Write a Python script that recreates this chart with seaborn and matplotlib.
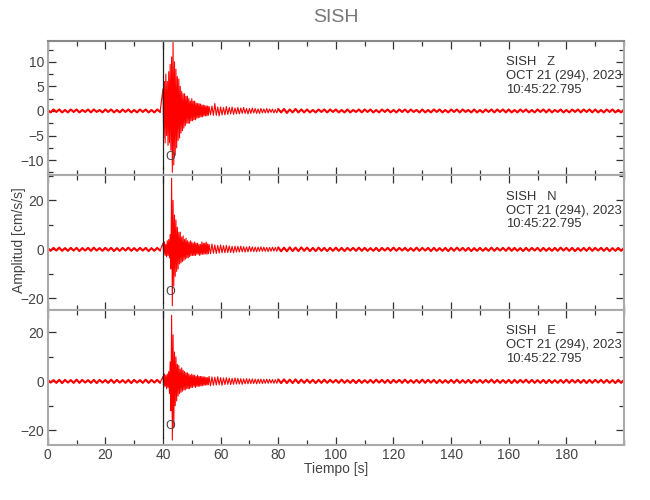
import numpy as np
import pandas as pd
import seaborn as sns
import matplotlib.pyplot as plt
from matplotlib.ticker import MultipleLocator

STATION = "SISH"
COMPONENTS = ["Z", "N", "E"]
DATE_LINE = "OCT 21 (294), 2023"
TIME_LINE = "10:45:22.795"
P_PICK = 40.0        # black vertical line (s)
O_TIME = 42.5        # position of the "O" label (s)
O_AMP = [-9.4, -17.5, -18.4]
YLIMS = [(-13.1, 14.3), (-24.7, 30.2), (-25.8, 29.2)]

# hand-read traces (cm/s/s), sampled as:
#   pre   0..39 s    every 1 s
#   event 40..55.75  every 0.25 s
#   coda  56..79.5   every 0.5 s
#   tail  80..200    every 1 s
SEGMENTS = [(0.0, 1.0), (40.0, 0.25), (56.0, 0.5), (80.0, 1.0)]

z_pre = [0.2, -0.3, 0.3, -0.2, 0.3, -0.3, 0.2, -0.3, 0.3, -0.2,
         0.3, -0.3, 0.2, -0.2, 0.3, -0.3, 0.3, -0.2, 0.2, -0.3,
         0.3, -0.2, 0.3, -0.3, 0.2, -0.3, 0.3, -0.2, 0.3, -0.3,
         0.2, -0.3, 0.3, -0.2, 0.3, -0.3, 0.2, -0.3, 0.3, -0.2]
z_event = [4.5, -5.5, 6.0, -6.5, 7.5, -5.0, 6.0, -7.0,
           8.0, -6.5, 9.5, -8.0, 11.0, -12.5, 14.0, -11.0,
           10.0, -9.0, 8.5, -7.5, 7.0, -6.0, 6.5, -5.5,
           5.0, -4.5, 4.0, -4.0, 3.5, -3.5, 3.5, -3.0,
           3.0, -2.5, 3.0, -2.5, 2.5, -2.5, 2.0, -2.0,
           2.5, -2.0, 2.0, -1.8, 2.0, -1.8, 1.6, -1.5,
           1.5, -1.4, 1.5, -1.3, 1.4, -1.2, 1.2, -1.2,
           1.2, -1.0, 1.1, -1.0, 1.0, -1.0, 1.0, -0.9]
z_coda = [0.9, -0.8, 1.0, -0.9, 1.5, -0.9, 0.8, -1.0, 0.8, -0.8,
          0.7, -0.8, 0.9, -0.7, 0.7, -0.6, 0.8, -0.7, 0.6, -0.6,
          0.7, -0.6, 0.6, -0.5, 0.7, -0.5, 0.5, -0.6, 0.5, -0.5,
          0.6, -0.4, 0.5, -0.5, 0.4, -0.5, 0.5, -0.4, 0.4, -0.4,
          0.5, -0.4, 0.4, -0.3, 0.4, -0.4, 0.3, -0.4]
z_tail = [0.4, -0.3, 0.4, -0.4, 0.3, -0.3, 0.4, -0.3, 0.3, -0.3,
          0.3, -0.3, 0.2, -0.3, 0.3, -0.2, 0.3, -0.3, 0.3, -0.2,
          0.3, -0.3, 0.2, -0.3, 0.3, -0.3, 0.2, -0.2, 0.3, -0.3,
          0.3, -0.2, 0.3, -0.3, 0.2, -0.3, 0.3, -0.2, 0.3, -0.3,
          0.2, -0.3, 0.3, -0.2, 0.3, -0.3, 0.3, -0.2, 0.2, -0.3,
          0.3, -0.3, 0.2, -0.3, 0.3, -0.2, 0.3, -0.3, 0.2, -0.3,
          0.3, -0.2, 0.3, -0.3, 0.3, -0.2, 0.2, -0.3, 0.3, -0.3,
          0.2, -0.3, 0.3, -0.2, 0.3, -0.3, 0.3, -0.2, 0.3, -0.3,
          0.3, -0.3, 0.2, -0.3, 0.3, -0.2, 0.3, -0.3, 0.2, -0.3,
          0.3, -0.2, 0.3, -0.3, 0.3, -0.3, 0.2, -0.2, 0.3, -0.3,
          0.2, -0.3, 0.3, -0.2, 0.3, -0.3, 0.3, -0.2, 0.3, -0.3,
          0.3, -0.3, 0.2, -0.3, 0.3, -0.2, 0.3, -0.3, 0.2, -0.3,
          0.3]

n_pre = [0.5, -0.6, 0.6, -0.5, 0.7, -0.6, 0.5, -0.6, 0.6, -0.5,
         0.6, -0.7, 0.5, -0.5, 0.6, -0.6, 0.7, -0.5, 0.5, -0.6,
         0.6, -0.5, 0.6, -0.7, 0.5, -0.6, 0.6, -0.5, 0.7, -0.6,
         0.5, -0.6, 0.6, -0.5, 0.6, -0.7, 0.5, -0.6, 0.6, -0.5]
n_event = [2.5, -2.0, 3.0, -2.5, 2.0, -3.0, 3.5, -2.5,
           4.0, -3.5, 6.0, -8.0, 29.0, -23.0, 20.0, -15.0,
           14.0, -11.0, 12.0, -9.0, 9.0, -8.0, 7.0, -6.0,
           7.0, -5.5, 5.0, -5.0, 5.5, -4.5, 4.0, -4.0,
           4.5, -3.5, 3.5, -3.5, 3.0, -3.0, 3.5, -2.5,
           3.0, -2.5, 2.5, -2.5, 3.0, -2.5, 2.5, -2.0,
           2.5, -2.0, 2.0, -2.5, 2.0, -2.0, 3.0, -2.0,
           2.5, -2.0, 2.5, -1.8, 3.0, -2.0, 2.2, -1.8]
n_coda = [2.0, -1.8, 2.2, -1.6, 1.8, -1.7, 1.6, -1.5, 1.8, -1.4,
          1.5, -1.4, 1.6, -1.3, 1.4, -1.3, 1.2, -1.4, 1.3, -1.1,
          1.2, -1.1, 1.3, -1.0, 1.1, -1.1, 1.0, -1.0, 1.2, -0.9,
          1.0, -0.9, 0.9, -1.0, 0.9, -0.8, 1.0, -0.8, 0.9, -0.8,
          0.8, -0.9, 0.8, -0.8, 0.9, -0.7, 0.8, -0.8]
n_tail = [0.8, -0.8, 0.7, -0.8, 0.8, -0.7, 0.7, -0.7, 0.8, -0.6,
          0.7, -0.7, 0.6, -0.7, 0.7, -0.6, 0.6, -0.7, 0.6, -0.6,
          0.7, -0.6, 0.6, -0.7, 0.6, -0.5, 0.6, -0.6, 0.7, -0.6,
          0.6, -0.6, 0.5, -0.6, 0.6, -0.7, 0.6, -0.5, 0.6, -0.6,
          0.7, -0.6, 0.6, -0.5, 0.6, -0.6, 0.5, -0.6, 0.7, -0.6,
          0.6, -0.5, 0.6, -0.7, 0.6, -0.6, 0.5, -0.6, 0.6, -0.7,
          0.6, -0.6, 0.7, -0.5, 0.6, -0.6, 0.6, -0.7, 0.5, -0.6,
          0.6, -0.6, 0.5, -0.6, 0.7, -0.6, 0.6, -0.5, 0.6, -0.6,
          0.7, -0.6, 0.6, -0.6, 0.5, -0.7, 0.6, -0.6, 0.6, -0.5,
          0.6, -0.7, 0.6, -0.6, 0.5, -0.6, 0.6, -0.6, 0.7, -0.5,
          0.6, -0.6, 0.6, -0.7, 0.5, -0.6, 0.6, -0.6, 0.7, -0.6,
          0.6, -0.5, 0.6, -0.6, 0.6, -0.7, 0.5, -0.6, 0.6, -0.6,
          0.6]

e_pre = [0.6, -0.5, 0.5, -0.6, 0.6, -0.7, 0.6, -0.5, 0.5, -0.6,
         0.7, -0.6, 0.6, -0.5, 0.5, -0.6, 0.6, -0.7, 0.6, -0.5,
         0.5, -0.6, 0.7, -0.6, 0.6, -0.5, 0.5, -0.6, 0.6, -0.7,
         0.6, -0.5, 0.5, -0.6, 0.7, -0.6, 0.6, -0.5, 0.6, -0.6]
e_event = [2.0, -2.5, 3.0, -2.0, 2.5, -3.0, 3.0, -2.5,
           4.0, -5.0, 8.0, -12.0, 27.0, -24.0, 19.0, -19.0,
           12.0, -10.0, 10.0, -8.0, 7.0, -6.0, 6.5, -5.0,
           5.0, -4.5, 5.5, -4.0, 4.5, -3.5, 4.0, -3.5,
           3.5, -3.0, 3.5, -3.0, 3.0, -3.0, 2.5, -2.5,
           3.0, -2.5, 2.5, -2.0, 2.5, -2.5, 2.0, -2.0,
           2.5, -2.0, 2.0, -2.0, 2.0, -1.8, 2.0, -1.8,
           1.8, -1.6, 1.8, -1.5, 1.6, -1.5, 1.5, -1.4]
e_coda = [2.0, -1.8, 1.8, -1.6, 1.7, -1.5, 1.9, -1.4, 1.5, -1.6,
          1.4, -1.3, 1.5, -1.2, 1.3, -1.3, 1.2, -1.2, 1.4, -1.1,
          1.2, -1.1, 1.1, -1.2, 1.0, -1.0, 1.1, -1.0, 1.0, -0.9,
          1.0, -0.9, 0.9, -1.0, 0.9, -0.8, 0.9, -0.9, 0.8, -0.8,
          0.9, -0.8, 0.8, -0.7, 0.8, -0.8, 0.7, -0.8]
e_tail = [0.8, -0.7, 0.8, -0.7, 0.7, -0.7, 0.8, -0.7, 0.7, -0.6,
          0.7, -0.6, 0.6, -0.7, 0.6, -0.6, 0.7, -0.6, 0.6, -0.5,
          0.6, -0.6, 0.7, -0.6, 0.5, -0.6, 0.6, -0.7, 0.6, -0.6,
          0.5, -0.6, 0.6, -0.6, 0.7, -0.5, 0.6, -0.6, 0.6, -0.7,
          0.6, -0.5, 0.6, -0.6, 0.7, -0.6, 0.5, -0.6, 0.6, -0.6,
          0.7, -0.6, 0.6, -0.5, 0.6, -0.7, 0.6, -0.6, 0.5, -0.6,
          0.6, -0.6, 0.7, -0.6, 0.5, -0.6, 0.6, -0.7, 0.6, -0.5,
          0.6, -0.6, 0.6, -0.5, 0.7, -0.6, 0.6, -0.6, 0.5, -0.6,
          0.6, -0.7, 0.6, -0.6, 0.6, -0.5, 0.7, -0.6, 0.6, -0.6,
          0.5, -0.6, 0.6, -0.7, 0.6, -0.6, 0.5, -0.6, 0.6, -0.6,
          0.7, -0.6, 0.6, -0.5, 0.6, -0.6, 0.6, -0.7, 0.6, -0.6,
          0.6, -0.5, 0.6, -0.6, 0.6, -0.6, 0.5, -0.7, 0.6, -0.6,
          0.6]


def build_trace(comp, parts):
    frames = []
    for seg, ((t0, dt), vals) in enumerate(zip(SEGMENTS, parts)):
        t = t0 + np.arange(len(vals)) * dt
        frames.append(pd.DataFrame({"t": t, "amp": vals, "comp": comp, "seg": seg}))
    return pd.concat(frames, ignore_index=True)


def main():
    traces = {"Z": (z_pre, z_event, z_coda, z_tail),
              "N": (n_pre, n_event, n_coda, n_tail),
              "E": (e_pre, e_event, e_coda, e_tail)}
    df = pd.concat([build_trace(c, p) for c, p in traces.items()], ignore_index=True)

    sns.set_style("ticks")
    plt.rcParams["font.family"] = ["Liberation Sans", "DejaVu Sans"]
    grey_txt = "#444444"
    red = "#ff0000"

    fig, axes = plt.subplots(3, 1, figsize=(6.5, 5), dpi=100, sharex=True)
    fig.subplots_adjust(left=0.0734, right=0.96, bottom=0.111, top=0.9186, hspace=0)

    for i, (ax, comp) in enumerate(zip(axes, COMPONENTS)):
        d = df[df["comp"] == comp]
        sns.lineplot(data=d, x="t", y="amp", ax=ax, color=red, linewidth=0.8,
                     estimator=None, sort=False)
        # quiet parts sampled coarsely: thicker stroke so they read as a noise band
        for seg in (0, 3):
            sns.lineplot(data=d[d["seg"] == seg], x="t", y="amp", ax=ax, color=red,
                         linewidth=1.5, estimator=None, sort=False)
        ax.axvline(P_PICK, ymin=0.05, ymax=1.0, color="#222222", linewidth=0.9)
        ax.text(O_TIME, O_AMP[i], "O", color=grey_txt, fontsize=9, ha="center", va="center")
        ax.text(0.795, 0.885, f"{STATION}   {comp}\n{DATE_LINE}\n{TIME_LINE}",
                transform=ax.transAxes, ha="left", va="top", fontsize=9.4,
                color="#333333", linespacing=1.2)
        ax.set_xlim(0, 200)
        ax.set_ylim(*YLIMS[i])
        ax.set_xlabel("")
        ax.set_ylabel("")
        ax.xaxis.set_major_locator(MultipleLocator(20))
        ax.xaxis.set_minor_locator(MultipleLocator(10))
        if i == 0:
            ax.yaxis.set_major_locator(MultipleLocator(5))
            ax.yaxis.set_minor_locator(MultipleLocator(2.5))
        else:
            ax.yaxis.set_major_locator(MultipleLocator(20))
            ax.yaxis.set_minor_locator(MultipleLocator(10))
        ax.tick_params(which="both", direction="in", top=True, right=True,
                       color="#333333", labelcolor=grey_txt, labelsize=10, pad=2.5)
        ax.tick_params(which="major", length=6, width=0.9)
        ax.tick_params(which="minor", length=3.5, width=0.9)
        for s in ax.spines.values():
            s.set_color("#aaaaaa")
            s.set_linewidth(1.5)
    axes[0].spines["top"].set_color("#888888")
    axes[2].set_xticks(np.arange(0, 181, 20))

    fig.text(0.517, 0.964, STATION, ha="center", va="center", fontsize=14, color="#777777")
    fig.text(0.517, 0.062, "Tiempo [s]", ha="center", va="center", fontsize=10, color=grey_txt)
    fig.text(0.029, 0.52, "Amplitud [cm/s/s]", ha="center", va="center",
             rotation=90, fontsize=10, color=grey_txt)

    fig.savefig("out.png", dpi=100)


if __name__ == "__main__":
    main()
